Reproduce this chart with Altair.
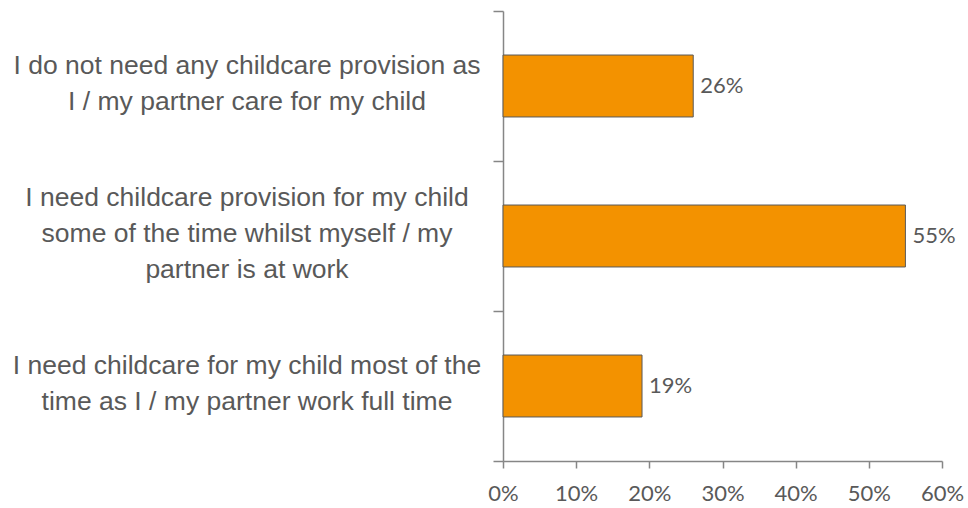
import altair as alt
import pandas as pd

categories = [
    "I do not need any childcare provision as\nI / my partner care for my child",
    "I need childcare provision for my child\nsome of the time whilst myself / my\npartner is at work",
    "I need childcare for my child most of the\ntime as I / my partner work full time",
]
values = [0.26, 0.55, 0.19]
labels = ["26%", "55%", "19%"]
x_ticks = [0, 0.1, 0.2, 0.3, 0.4, 0.5, 0.6]

LINE_H = 36
df = pd.DataFrame({"cat": categories, "value": values, "label": labels})
df["nlines"] = [c.count("\n") + 1 for c in categories]

TEXT = "#595959"
AXIS = "#868686"

y_enc = alt.Y(
    "cat:N",
    sort=categories,
    scale=alt.Scale(paddingInner=0, paddingOuter=0),
    axis=alt.Axis(
        title=None,
        labels=False,
        tickBand="extent",
        tickSize=10,
        tickColor=AXIS,
        tickWidth=1.5,
        domainColor=AXIS,
        domainWidth=1.5,
        grid=False,
    ),
)

x_enc = alt.X(
    "value:Q",
    scale=alt.Scale(domain=[0, 0.6], nice=False),
    axis=alt.Axis(
        title=None,
        values=x_ticks,
        format=".0%",
        tickSize=7,
        tickColor=AXIS,
        tickWidth=1.5,
        domainColor=AXIS,
        domainWidth=1.5,
        labelFont="Lato",
        labelFontSize=22,
        labelColor=TEXT,
        labelPadding=15,
        labelFlush=False,
        labelOverlap=False,
        grid=False,
    ),
)

bars = alt.Chart(df).mark_bar(
    color="#F39200", stroke="#595959", strokeWidth=1,
    height=alt.RelativeBandSize(0.413),
).encode(x=x_enc, y=y_enc)

bar_text = alt.Chart(df).mark_text(
    align="left", baseline="middle", dx=7, font="Lato", fontSize=22, color=TEXT
).encode(x="value:Q", y=alt.Y("cat:N", sort=categories), text="label:N")

layers = [bars, bar_text]
for n in sorted(set(df["nlines"])):
    layers.append(
        alt.Chart(df).transform_filter(alt.datum.nlines == int(n)).mark_text(
            align="center", baseline="middle", lineBreak="\n",
            font="Liberation Sans", fontSize=26.5, lineHeight=LINE_H,
            color=TEXT, dx=-256, dy=-(int(n) - 1) * LINE_H / 2 - 2,
        ).encode(
            x=alt.value(0),
            y=alt.Y("cat:N", sort=categories),
            text="cat:N",
        )
    )

chart = alt.layer(*layers).properties(
    width=439,
    height=450,
    background="white",
    autosize=alt.AutoSizeParams(type="none"),
    padding={"left": 503, "top": 11, "right": 26, "bottom": 47},
).configure_view(strokeWidth=0)

chart.save("out.html", embed_options={"renderer": "svg", "actions": False})
